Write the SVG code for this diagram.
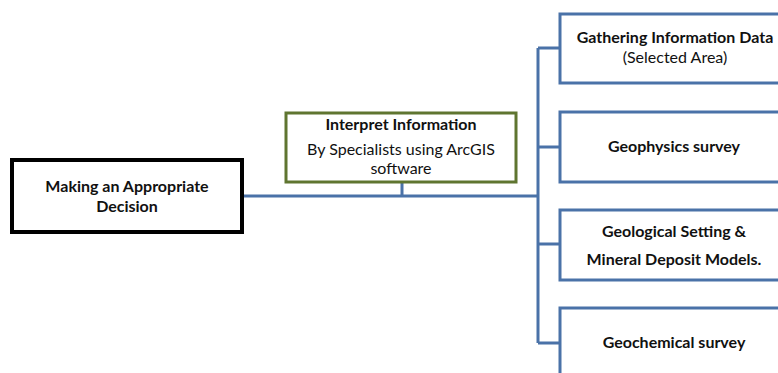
<svg xmlns="http://www.w3.org/2000/svg" width="778" height="373" viewBox="0 0 778 373">
<style>
text{font-family:Lato,"Liberation Sans",sans-serif;font-size:16px;fill:#111;text-anchor:middle}
.b{font-weight:bold}
.c{fill:none;stroke:#4a72a8;stroke-width:3}
.box{fill:#fff;stroke:#4a72a8;stroke-width:3}
</style>
<rect width="778" height="373" fill="#fff"/>
<g id="connectors">
<path class="c" d="M242 196 H538 M402 182 V196 M538 48 V343 M538 48 H560 M538 147 H560 M538 244 H560 M538 343 H560"/>
</g>
<g id="decision">
<rect x="12" y="160" width="230" height="72" fill="#fff" stroke="#000" stroke-width="4"/>
<text class="b" x="127" y="192">Making an Appropriate</text>
<text class="b" x="127" y="212">Decision</text>
</g>
<g id="interpret">
<rect x="286" y="113" width="230" height="69" fill="#fff" stroke="#5f7530" stroke-width="3"/>
<text class="b" x="401" y="130">Interpret Information</text>
<text x="401" y="155">By Specialists using ArcGIS</text>
<text x="401" y="174">software</text>
</g>
<g id="gathering">
<rect class="box" x="560" y="14" width="240" height="69"/>
<text class="b" x="675" y="43">Gathering Information Data</text>
<text x="675" y="63">(Selected Area)</text>
</g>
<g id="geophysics">
<rect class="box" x="560" y="112" width="240" height="70"/>
<text class="b" x="674" y="152">Geophysics survey</text>
</g>
<g id="geological">
<rect class="box" x="560" y="210" width="240" height="70"/>
<text class="b" x="674" y="237">Geological Setting &amp;</text>
<text class="b" x="674" y="265">Mineral Deposit Models.</text>
</g>
<g id="geochemical">
<rect class="box" x="560" y="308" width="240" height="80"/>
<text class="b" x="674" y="348">Geochemical survey</text>
</g>
</svg>
